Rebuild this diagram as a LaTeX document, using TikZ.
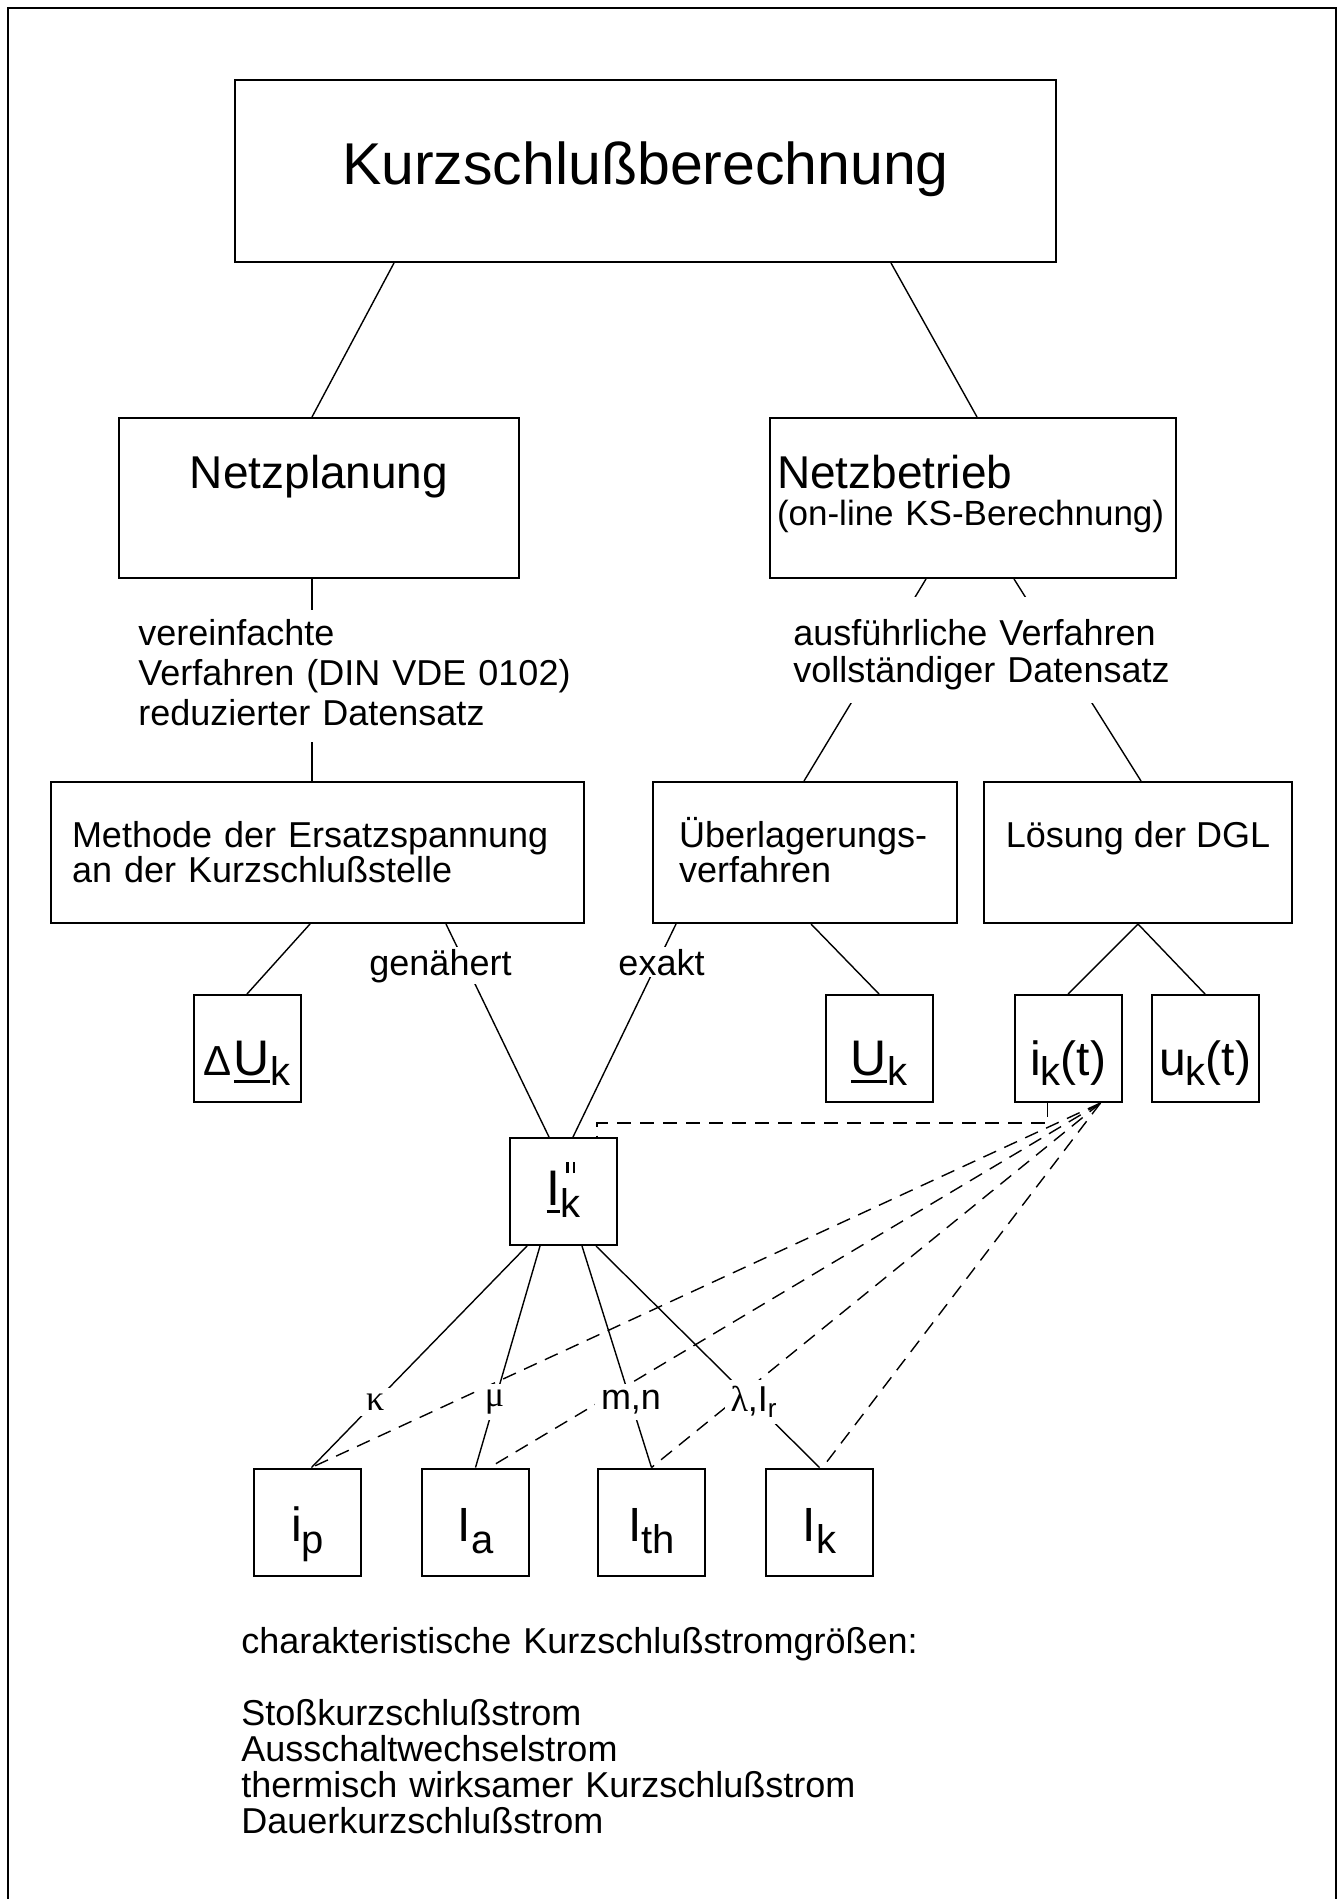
\documentclass[tikz,border=0pt]{standalone}
\usepackage{fontspec}
\setmainfont{Liberation Sans}
\newfontfamily\greekfont{Liberation Serif}
\usetikzlibrary{positioning}

\newcommand{\lowsub}[2][5pt]{\raisebox{-#1}{\fontsize{20}{20}\selectfont #2}}
\newcommand{\ulsym}[1]{\setbox0=\hbox{#1}\rlap{\rule[-4pt]{\wd0}{1.5pt}}\box0}
\newcommand{\dblprime}{\rlap{\kern3pt\raisebox{16pt}{\rule{1.1pt}{5.5pt}\kern2.2pt\rule{1.1pt}{5.5pt}}}}

\begin{document}
\begin{tikzpicture}[x=0.5pt, y=-0.5pt,
    box/.style={rectangle, draw, line width=1pt, inner sep=0pt},
    valbox/.style={box, minimum width=53.5pt, minimum height=53.5pt},
    toprow/.style={valbox, text height=40pt, text depth=13.5pt},
    botrow/.style={valbox, text height=36.5pt, text depth=17pt, font=\fontsize{24}{24}\selectfont},
    conn/.style={line width=0.7pt},
    dashlink/.style={line width=0.7pt, dash pattern=on 7pt off 4.5pt},
    lbl/.style={fill=white, inner sep=3pt, font=\fontsize{18}{18}\selectfont}]
    \useasboundingbox (0,0) rectangle (1341,1899);
    \draw[line width=0.9pt] (8,1899) |- (1336,8) -- (1336,1899);

    \node[box, minimum width=410.5pt, text height=52.5pt, text depth=38.5pt, font=\fontsize{29.5}{30}\selectfont] (kurz) at (645.5,171) {Kurzschlußberechnung};
    \node[box, minimum width=200pt, text height=35pt, text depth=45pt, font=\fontsize{23}{24}\selectfont] (nplan) at (319,498) {Netzplanung};
    \node[box, inner xsep=3.5pt, text width=196pt, align=left, text height=35pt, text depth=45pt, font=\fontsize{17.5}{18.5}\selectfont] (nbetr) at (973,498) {{\fontsize{23}{24}\selectfont Netzbetrieb}\\(on-line KS-Berechnung)};

    \node[box, inner xsep=10.5pt, text width=245.5pt, align=left, text height=32.5pt, text depth=38pt, font=\fontsize{18}{17.5}\selectfont] (meth) at (317.5,852.5) {Methode der Ersatzspannung\\an der Kurzschlußstelle};
    \node[box, inner xsep=13pt, text width=126pt, align=left, text height=32.5pt, text depth=38pt, font=\fontsize{18}{17.5}\selectfont] (ueber) at (805,852.5) {Überlagerungs-\\verfahren};
    \node[box, minimum width=154pt, text height=32.5pt, text depth=38pt, font=\fontsize{18}{17.5}\selectfont, right=12.5pt of ueber] (loes) {Lösung der DGL};

    \node[toprow, font=\fontsize{25}{25}\selectfont] (du) at (247,1048.5) {{\fontsize{21}{21}\selectfont Δ}\kern1pt\ulsym{U}\lowsub{k}};
    \node[toprow, font=\fontsize{25}{25}\selectfont] (uk) at (879,1048.5) {\ulsym{U}\lowsub{k}};
    \node[toprow, font=\fontsize{24}{24}\selectfont] (ikt) at (1068,1048.5) {i\lowsub{k}(t)};
    \node[toprow, font=\fontsize{24}{24}\selectfont, right=14pt of ikt] (ukt) {u\lowsub{k}(t)};

    \node[valbox, text height=33.5pt, text depth=20pt, font=\fontsize{25}{25}\selectfont] (iss) at (563.5,1191.5) {\ulsym{I}\dblprime\lowsub[6pt]{k}};

    \node[botrow] (ip) at (307.5,1522) {i\lowsub[6pt]{p}};
    \node[botrow] (ia) at (475.5,1522) {I\lowsub[6pt]{a}};
    \node[botrow] (ith) at (651.5,1522) {I\lowsub[6pt]{th}};
    \node[botrow] (ik) at (819.5,1522) {I\lowsub[6pt]{k}};

    % gestrichelte Verbindungen von i_k(t)
    \draw[dashlink] ([xshift=17pt]ikt.south west) -- ++(0,20) -| ([xshift=-10.5pt]iss.north east);
    \draw[dashlink] ([xshift=-11pt]ikt.south east) -- ([xshift=2pt]ip.north);
    \draw[dashlink] ([xshift=-11pt]ikt.south east) -- ([xshift=7pt]ia.north);
    \draw[dashlink] ([xshift=-11pt]ikt.south east) -- (ith.north);
    \draw[dashlink] ([xshift=-11pt]ikt.south east) -- ([xshift=1.5pt]ik.north);

    \draw[conn] ([xshift=80pt]kurz.south west) -- ([xshift=-3.5pt]nplan.north);
    \draw[conn] ([xshift=328.5pt]kurz.south west) -- ([xshift=2pt]nbetr.north);
    \draw[conn] ([xshift=-3.5pt]nplan.south) -- ([xshift=-2.75pt]meth.north);
    \draw[conn] ([xshift=78.5pt]nbetr.south west) -- ([xshift=-0.5pt]ueber.north);
    \draw[conn] ([xshift=122.5pt]nbetr.south west) -- ([xshift=1.5pt]loes.north);
    \draw[conn] ([xshift=130pt]meth.south west) -- (du.north);
    \draw[conn] ([xshift=198pt]meth.south west) -- ([xshift=20pt]iss.north west);
    \draw[conn] ([xshift=12pt]ueber.south west) -- ([xshift=32pt]iss.north west);
    \draw[conn] ([xshift=79.5pt]ueber.south west) -- (uk.north);
    \draw[conn] (loes.south) -- (ikt.north);
    \draw[conn] (loes.south) -- (ukt.north);
    \draw[conn] ([xshift=9pt]iss.south west) -- node[lbl, pos=.705] {\greekfont κ} ([xshift=2pt]ip.north);
    \draw[conn] ([xshift=15.5pt]iss.south west) -- node[lbl, pos=.705] {\greekfont μ} (ia.north);
    \draw[conn] ([xshift=36.5pt]iss.south west) -- node[lbl, pos=.705] {m,n} (ith.north);
    \draw[conn] ([xshift=43.5pt]iss.south west) -- node[lbl, pos=.705] {{\greekfont λ},I\raisebox{-3pt}{\fontsize{13}{13}\selectfont r}} (ik.north);

    \node[anchor=north west, fill=white, inner sep=0pt, text width=220pt, align=left, text height=17.5pt, text depth=48.5pt, font=\fontsize{18}{20}\selectfont] (vereinf) at (138,610) {vereinfachte\\Verfahren (DIN VDE 0102)\\reduzierter Datensatz};
    \node[anchor=north west, fill=white, inner sep=0pt, text width=190pt, align=left, text height=24pt, text depth=29pt, font=\fontsize{18}{18.5}\selectfont] (ausf) at (793,597) {ausführliche Verfahren\\vollständiger Datensatz};
    \node[lbl, anchor=base, inner sep=1pt] (genae) at (440.5,975) {genähert};
    \node[lbl, anchor=base, inner sep=1pt] (exakt) at (661.5,975) {exakt};

    \node[anchor=base west, inner sep=0pt, text width=400pt, align=left, font=\fontsize{18}{18}\selectfont] (legende) at (241,1653) {charakteristische Kurzschlußstromgrößen:\\[18pt]Stoßkurzschlußstrom\\Ausschaltwechselstrom\\thermisch wirksamer Kurzschlußstrom\\Dauerkurzschlußstrom};
\end{tikzpicture}
\end{document}
